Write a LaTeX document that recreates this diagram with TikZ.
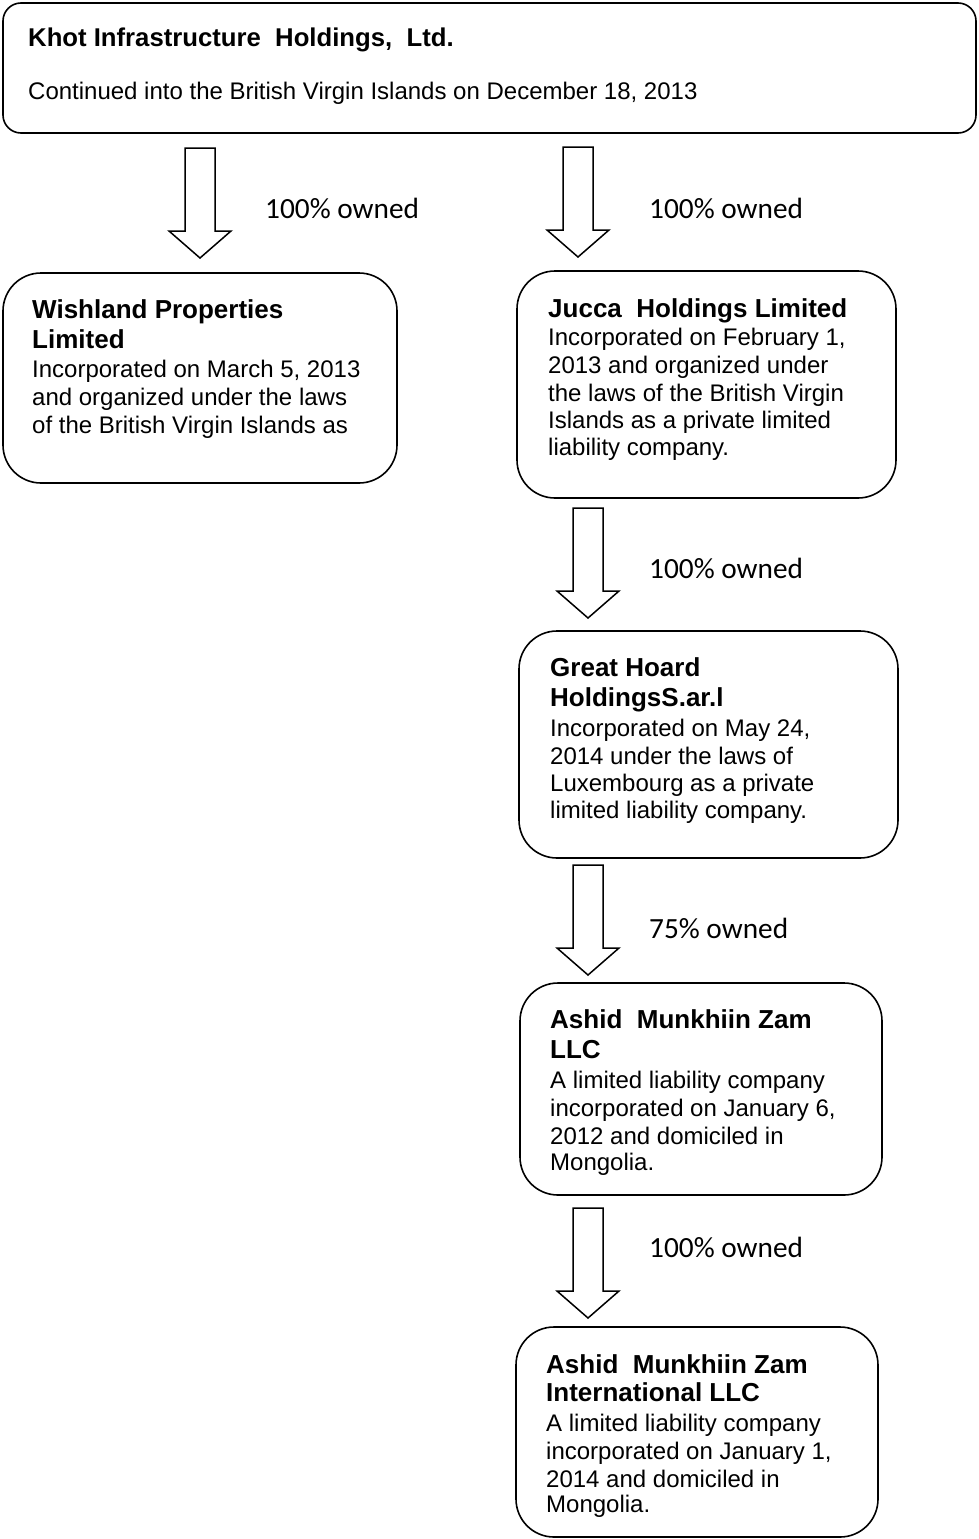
\documentclass[tikz,border=0pt]{standalone}
\usepackage{fontspec}
\setmainfont{Liberation Sans}
\newfontfamily\ownfont{Carlito}
\tikzset{
  box/.style={draw=black, line width=1.6pt, rounded corners=38pt, fill=white, inner sep=0pt},
  topbox/.style={box, rounded corners=18pt},
  ttl/.style={anchor=base west, inner sep=0pt, font=\fontsize{26}{30}\selectfont\bfseries},
  bdy/.style={anchor=base west, inner sep=0pt, font=\fontsize{24}{28}\selectfont},
  own/.style={anchor=base west, inner sep=0pt, font=\fontsize{29.3}{34}\selectfont\ownfont},
  blk/.style={draw=black, line width=1.5pt, fill=white, line join=miter}
}
\newcommand\blockarrow[3]{%
  \begin{scope}[shift={(#2,#3)}]
    \draw[blk] (-15,0) coordinate (#1) -- (15,0) -- (15,83) -- (31,83) -- (0,110) coordinate (#1tip) -- (-31,83) -- (-15,83) -- cycle;
  \end{scope}}
\begin{document}
\begin{tikzpicture}[x=1pt,y=-1pt]
\useasboundingbox (0,0) rectangle (978,1539);
\fill[white] (0,0) rectangle (978,1539);

% boxes
\node[topbox, minimum width=973pt, minimum height=130pt] (top) at (489.5,68) {};
\node[box, minimum width=394pt, minimum height=210pt] (wish) at (200,378) {};
\node[box, minimum width=379pt, minimum height=227pt] (jucca) at (706.5,384.5) {};
\node[box, minimum width=379pt, minimum height=227pt] (great) at (708.5,744.5) {};
\node[box, minimum width=362pt, minimum height=212pt] (ashid) at (701,1089) {};
\node[box, minimum width=362pt, minimum height=210pt] (intl) at (697,1432) {};

% top texts
\node[ttl, font=\fontsize{25.7}{30}\selectfont\bfseries] (t1) at (28,46) {Khot Infrastructure\ \ Holdings,\ \ Ltd.};
\node[bdy] (t2) at (28,99) {Continued into the British Virgin Islands on December 18, 2013};

% wishland
\node[ttl] (w1) at (32,318) {Wishland Properties};
\node[ttl] (w2) at (32,348) {Limited};
\node[bdy] (w3) at (32,377) {Incorporated on March\ 5, 2013};
\node[bdy] (w4) at (32,405) {and organized under the laws};
\node[bdy] (w5) at (32,433) {of the British Virgin Islands as};

% jucca
\node[ttl] (j1) at (548,317) {Jucca\ \ Holdings Limited};
\node[bdy] (j2) at (548,345) {Incorporated on February 1,};
\node[bdy] (j3) at (548,373) {2013 and organized under};
\node[bdy] (j4) at (548,401) {the laws of the British Virgin};
\node[bdy] (j5) at (548,428) {Islands as a private limited};
\node[bdy] (j6) at (548,455) {liability company.};

% great hoard
\node[ttl] (g1) at (550,676) {Great Hoard};
\node[ttl] (g2) at (550,706) {HoldingsS.ar.l};
\node[bdy] (g3) at (550,736) {Incorporated on May\ 24,};
\node[bdy] (g4) at (550,764) {2014 under the laws of};
\node[bdy] (g5) at (550,791) {Luxembourg as a private};
\node[bdy] (g6) at (550,818) {limited liability company.};

% ashid
\node[ttl] (a1) at (550,1028) {Ashid\ \ Munkhiin Zam};
\node[ttl] (a2) at (550,1058) {LLC};
\node[bdy] (a3) at (550,1088) {A limited liability company};
\node[bdy] (a4) at (550,1116) {incorporated on January 6,};
\node[bdy] (a5) at (550,1144) {2012 and domiciled in};
\node[bdy] (a6) at (550,1170) {Mongolia.};

% ashid international
\node[ttl] (i1) at (546,1373) {Ashid\ \ Munkhiin Zam};
\node[ttl] (i2) at (546,1401) {International LLC};
\node[bdy] (i3) at (546,1431) {A limited liability company};
\node[bdy] (i4) at (546,1459) {incorporated on January 1,};
\node[bdy] (i5) at (546,1487) {2014 and domiciled in};
\node[bdy] (i6) at (546,1512) {Mongolia.};

% arrows
\blockarrow{ar1}{200}{148}
\blockarrow{ar2}{578}{147}
\blockarrow{ar3}{588}{508}
\blockarrow{ar4}{588}{865}
\blockarrow{ar5}{588}{1208}

% labels
\node[own] (l1) at (265,218) {100\% owned};
\node[own] (l2) at (649,218) {100\% owned};
\node[own] (l3) at (649,578) {100\% owned};
\node[own] (l4) at (649,938) {75\% owned};
\node[own] (l5) at (649,1257) {100\% owned};
\end{tikzpicture}
\end{document}
